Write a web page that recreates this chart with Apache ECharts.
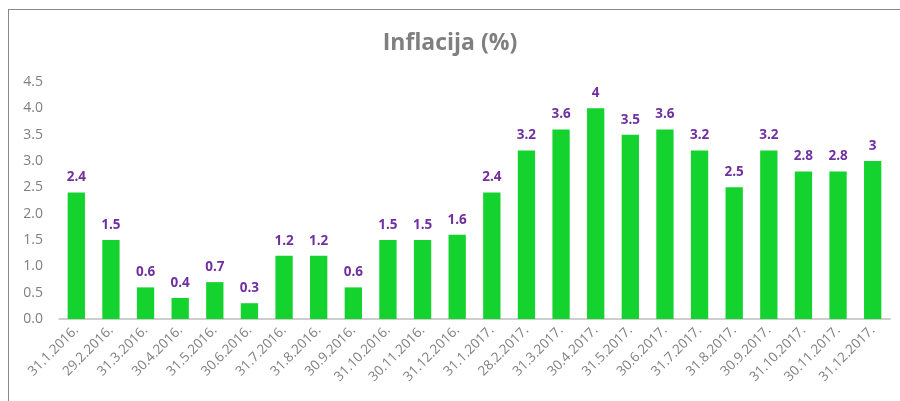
<!DOCTYPE html>
<html>
<head>
<meta charset="utf-8">
<script src="https://cdn.jsdelivr.net/npm/echarts@6/dist/echarts.min.js"></script>
<style>
  html, body { margin: 0; padding: 0; background: #fff; }
  #frame { position: absolute; left: 8px; top: 9px; width: 1000px; height: 500px; border: 1.5px solid #888; box-sizing: border-box; }
  #chart { position: absolute; left: 0; top: 0; width: 900px; height: 401px; }
</style>
</head>
<body>
<div id="frame"></div>
<div id="chart"></div>
<script>
const categories = ['31.1.2016.', '29.2.2016.', '31.3.2016.', '30.4.2016.', '31.5.2016.', '30.6.2016.',
  '31.7.2016.', '31.8.2016.', '30.9.2016.', '31.10.2016.', '30.11.2016.', '31.12.2016.',
  '31.1.2017.', '28.2.2017.', '31.3.2017.', '30.4.2017.', '31.5.2017.', '30.6.2017.',
  '31.7.2017.', '31.8.2017.', '30.9.2017.', '31.10.2017.', '30.11.2017.', '31.12.2017.'];
const inflation = [2.4, 1.5, 0.6, 0.4, 0.7, 0.3, 1.2, 1.2, 0.6, 1.5, 1.5, 1.6,
  2.4, 3.2, 3.6, 4, 3.5, 3.6, 3.2, 2.5, 3.2, 2.8, 2.8, 3];

const chart = echarts.init(document.getElementById('chart'));
const font = '"Open Sans", "Noto Sans", sans-serif';

const option = {
  animation: false,
  title: {
    text: 'Inflacija (%)',
    left: 'center',
    top: 27,
    textStyle: { color: '#7f7f7f', fontSize: 23, fontWeight: 'bold', fontFamily: font }
  },
  grid: { left: 59, right: 10, top: 82, bottom: 82 },
  xAxis: {
    type: 'category',
    data: categories,
    axisLine: { lineStyle: { color: '#bfbfbf', width: 1.5 } },
    axisTick: { show: false },
    axisLabel: {
      rotate: 45,
      interval: 0,
      color: '#7f7f7f',
      fontSize: 13.5,
      fontFamily: font,
      margin: 9
    }
  },
  yAxis: {
    type: 'value',
    min: 0,
    max: 4.5,
    interval: 0.5,
    splitLine: { show: false },
    axisLine: { show: false },
    axisLabel: {
      color: '#7f7f7f',
      fontSize: 14,
      fontFamily: font,
      margin: 16,
      formatter: v => v.toFixed(1)
    }
  },
  series: [{
    type: 'bar',
    data: inflation,
    barWidth: '50%',
    itemStyle: { color: '#15d32e' },
    label: {
      show: true,
      position: 'top',
      distance: 8,
      color: '#7030a0',
      fontWeight: 'bold',
      fontSize: 13.5,
      fontFamily: font
    }
  }]
};

chart.setOption(option);
window.addEventListener('resize', () => chart.resize());
</script>
</body>
</html>
